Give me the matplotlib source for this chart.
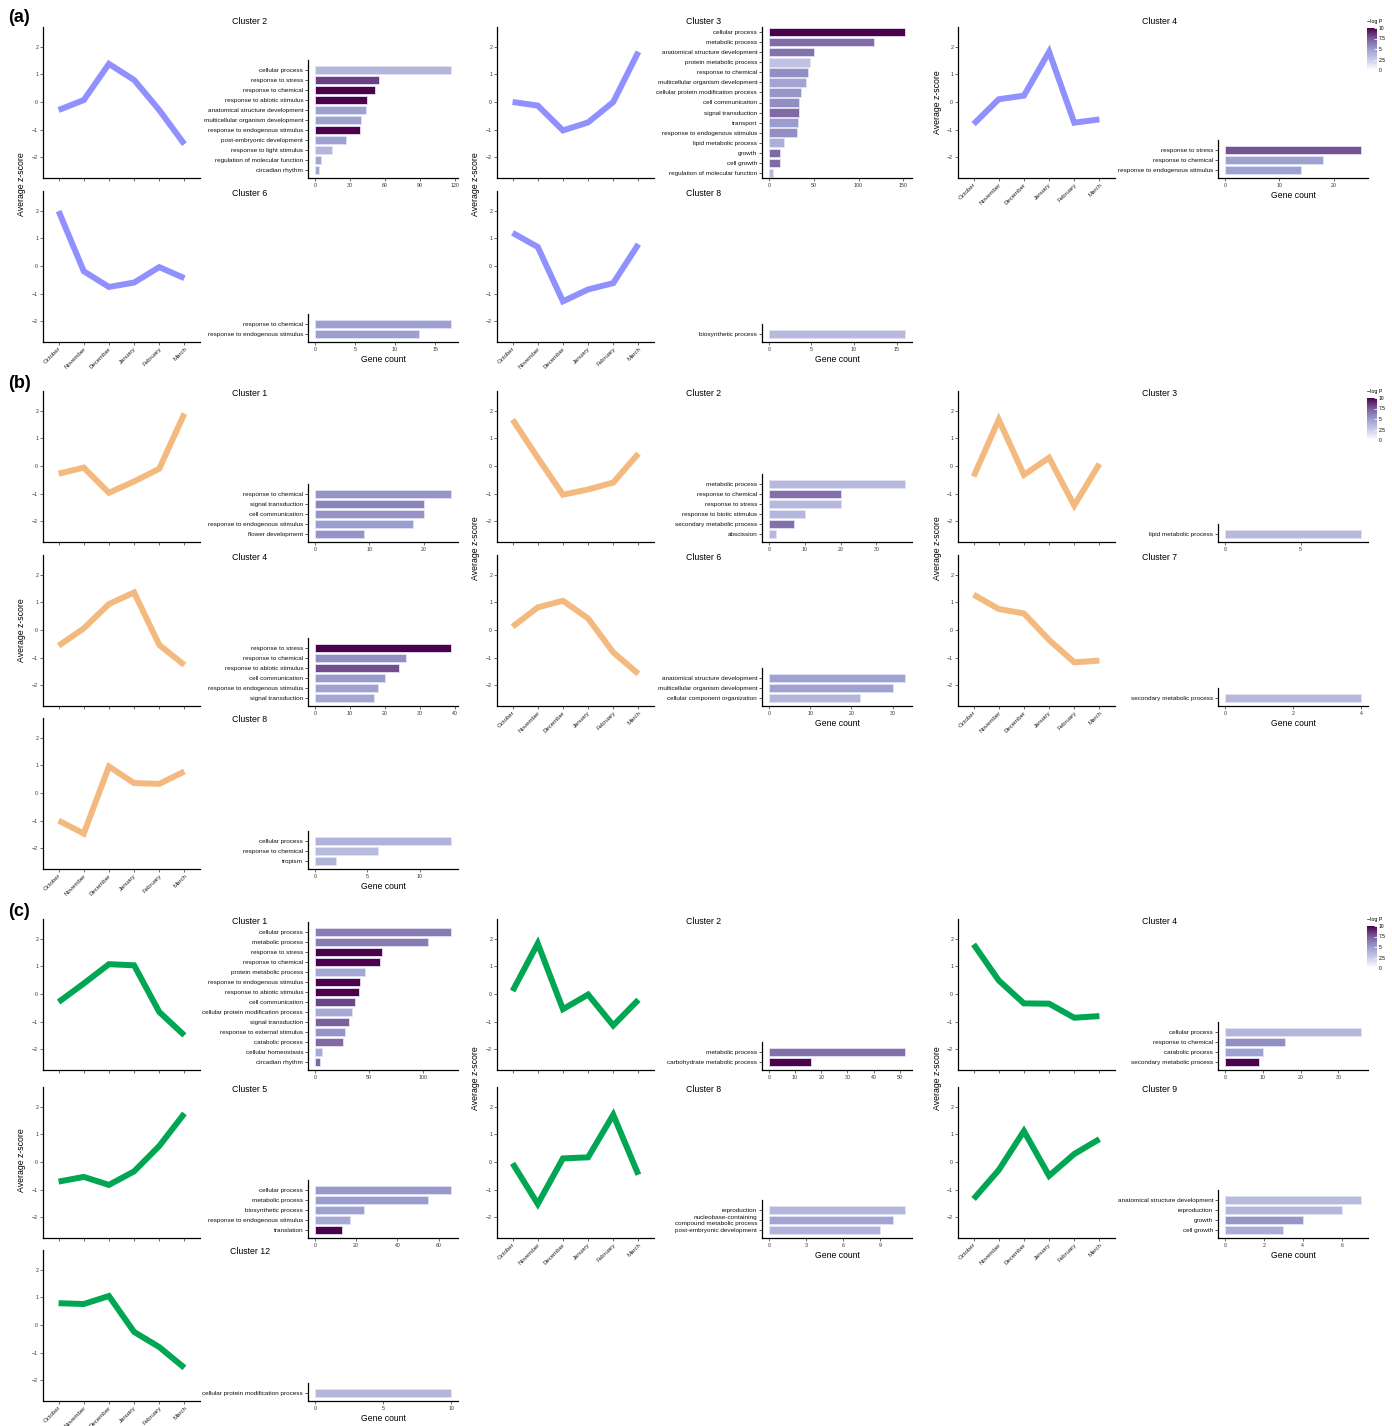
import numpy as np
import matplotlib.pyplot as plt
from matplotlib.colors import LinearSegmentedColormap, Normalize
from matplotlib.cm import ScalarMappable

plt.rcParams['font.family'] = ['Liberation Sans', 'DejaVu Sans']

MONTHS = ['October', 'November', 'December', 'January', 'February', 'March']

# ── Data: average z-score per month, GO terms, gene counts, -log P ────────────
# panel (a)
a2_z = [-0.29, 0.07, 1.38, 0.80, -0.29, -1.53]
a2_terms = ['cellular process', 'response to stress', 'response to chemical',
            'response to abiotic stimulus', 'anatomical structure development',
            'multicellular organism development', 'response to endogenous stimulus',
            'post-embryonic development', 'response to light stimulus',
            'regulation of molecular function', 'circadian rhythm']
a2_count = [117, 55, 52, 45, 44, 40, 39, 27, 15, 5, 4]
a2_logp = [3.6, 8.3, 10, 10, 4.8, 4.8, 10, 4.8, 3.6, 4.5, 4.5]
a2_ticks = [0, 30, 60, 90, 120]

a3_z = [0.0, -0.13, -1.03, -0.74, 0.0, 1.82]
a3_terms = ['cellular process', 'metabolic process', 'anatomical structure development',
            'protein metabolic process', 'response to chemical',
            'multicellular organism development', 'cellular protein modification process',
            'cell communication', 'signal transduction', 'transport',
            'response to endogenous stimulus', 'lipid metabolic process', 'growth',
            'cell growth', 'regulation of molecular function']
a3_count = [152, 117, 50, 46, 44, 41, 36, 34, 34, 33, 31, 17, 13, 12, 4.5]
a3_logp = [10, 6.9, 6.7, 3.0, 5.6, 4.6, 5.3, 5.6, 7.0, 5.0, 5.6, 4.0, 7.0, 7.0, 3.6]
a3_ticks = [0, 50, 100, 150]

a4_z = [-0.80, 0.10, 0.23, 1.82, -0.75, -0.63]
a4_terms = ['response to stress', 'response to chemical', 'response to endogenous stimulus']
a4_count = [25, 18, 14]
a4_logp = [7.8, 4.8, 4.8]
a4_ticks = [0, 10, 20]

a6_z = [1.99, -0.19, -0.76, -0.60, -0.04, -0.44]
a6_terms = ['response to chemical', 'response to endogenous stimulus']
a6_count = [17, 13]
a6_logp = [4.9, 4.9]
a6_ticks = [0, 5, 10, 15]

a8_z = [1.20, 0.69, -1.28, -0.85, -0.62, 0.79]
a8_terms = ['biosynthetic process']
a8_count = [16]
a8_logp = [3.5]
a8_ticks = [0, 5, 10, 15]

# panel (b)
b1_z = [-0.28, -0.06, -0.97, -0.56, -0.10, 1.90]
b1_terms = ['response to chemical', 'signal transduction', 'cell communication',
            'response to endogenous stimulus', 'flower development']
b1_count = [25, 20, 20, 18, 9]
b1_logp = [5.4, 6.0, 5.4, 5.0, 5.4]
b1_ticks = [0, 10, 20]

b2_z = [1.68, 0.30, -1.04, -0.85, -0.60, 0.45]
b2_terms = ['metabolic process', 'response to chemical', 'response to stress',
            'response to biotic stimulus', 'secondary metabolic process', 'abscission']
b2_count = [38, 20, 20, 10, 7, 2]
b2_logp = [3.5, 6.8, 3.5, 3.6, 6.8, 3.5]
b2_ticks = [0, 10, 20, 30]

b3_z = [-0.38, 1.68, -0.32, 0.30, -1.43, 0.08]
b3_terms = ['lipid metabolic process']
b3_count = [9]
b3_logp = [3.5]
b3_ticks = [0, 5]

b4_z = [-0.57, 0.06, 0.94, 1.36, -0.54, -1.27]
b4_terms = ['response to stress', 'response to chemical', 'response to abiotic stimulus',
            'cell communication', 'response to endogenous stimulus', 'signal transduction']
b4_count = [39, 26, 24, 20, 18, 17]
b4_logp = [10, 5.6, 7.9, 5.1, 4.8, 4.5]
b4_ticks = [0, 10, 20, 30, 40]

b6_z = [0.12, 0.82, 1.06, 0.42, -0.81, -1.59]
b6_terms = ['anatomical structure development', 'multicellular organism development',
            'cellular component organization']
b6_count = [33, 30, 22]
b6_logp = [4.8, 4.8, 3.7]
b6_ticks = [0, 10, 20, 30]

b7_z = [1.28, 0.76, 0.60, -0.36, -1.17, -1.11]
b7_terms = ['secondary metabolic process']
b7_count = [4]
b7_logp = [3.5]
b7_ticks = [0, 2, 4]

b8_z = [-1.00, -1.47, 0.96, 0.36, 0.33, 0.78]
b8_terms = ['cellular process', 'response to chemical', 'tropism']
b8_count = [13, 6, 2]
b8_logp = [3.8, 3.4, 3.8]
b8_ticks = [0, 5, 10]

# panel (c)
c1_z = [-0.29, 0.38, 1.08, 1.04, -0.65, -1.50]
c1_terms = ['cellular process', 'metabolic process', 'response to stress',
            'response to chemical', 'protein metabolic process',
            'response to endogenous stimulus', 'response to abiotic stimulus',
            'cell communication', 'cellular protein modification process',
            'signal transduction', 'response to external stimulus', 'catabolic process',
            'cellular homeostasis', 'circadian rhythm']
c1_count = [126, 105, 62, 60, 46, 42, 41, 37, 34, 32, 28, 26, 7, 5]
c1_logp = [6.3, 6.3, 10, 10, 4.5, 10, 10, 8.2, 4.3, 7.4, 5.4, 7.0, 4.3, 7.0]
c1_ticks = [0, 50, 100]

c2_z = [0.11, 1.83, -0.55, -0.02, -1.14, -0.21]
c2_terms = ['metabolic process', 'carbohydrate metabolic process']
c2_count = [52, 16]
c2_logp = [6.8, 10]
c2_ticks = [0, 10, 20, 30, 40, 50]

c4_z = [1.80, 0.49, -0.34, -0.35, -0.86, -0.80]
c4_terms = ['cellular process', 'response to chemical', 'catabolic process',
            'secondary metabolic process']
c4_count = [36, 16, 10, 9]
c4_logp = [3.6, 5.6, 4.8, 10]
c4_ticks = [0, 10, 20, 30]

c5_z = [-0.71, -0.54, -0.83, -0.34, 0.58, 1.76]
c5_terms = ['cellular process', 'metabolic process', 'biosynthetic process',
            'response to endogenous stimulus', 'translation']
c5_count = [66, 55, 24, 17, 13]
c5_logp = [5.2, 5.0, 4.8, 4.4, 10]
c5_ticks = [0, 20, 40, 60]

c8_z = [-0.05, -1.52, 0.13, 0.17, 1.71, -0.46]
c8_terms = ['reproduction', 'nucleobase-containing\ncompound metabolic process',
            'post-embryonic development']
c8_count = [11, 10, 9]
c8_logp = [3.6, 4.6, 3.8]
c8_ticks = [0, 3, 6, 9]

c9_z = [-1.34, -0.29, 1.12, -0.50, 0.29, 0.83]
c9_terms = ['anatomical structure development', 'reproduction', 'growth', 'cell growth']
c9_count = [7, 6, 4, 3]
c9_logp = [3.4, 3.6, 5.3, 4.2]
c9_ticks = [0, 2, 4, 6]

c12_z = [0.79, 0.76, 1.05, -0.25, -0.80, -1.55]
c12_terms = ['cellular protein modification process']
c12_count = [10]
c12_logp = [3.6]
c12_ticks = [0, 5, 10]

# ── Layout (pixels) ───────────────────────────────────────────────────────────
W, H = 1392, 1426
fig = plt.figure(figsize=(W / 100, H / 100), dpi=100)

LINE_X = [43, 497, 958]
BAR_X = [308, 762, 1218]
PX_UNIT = 27.6

cmap = LinearSegmentedColormap.from_list(
    'logp', ['#FFFFFF', '#C8CBE6', '#9A9ECF', '#7A5E9C', '#4D004B'])
norm = Normalize(0, 10)


def px_axes(x, y, w, h):
    return fig.add_axes([x / W, 1 - (y + h) / H, w / W, h / H])


def style(ax):
    for s in ['top', 'right']:
        ax.spines[s].set_visible(False)
    for s in ['left', 'bottom']:
        ax.spines[s].set_linewidth(0.9)
        ax.spines[s].set_color('black')
    ax.tick_params(length=2, width=0.5, pad=1.5, colors='#333333', labelsize=3.8)
    ax.set_facecolor('none')


def draw_line(col, zero, z, color, months):
    ax = px_axes(LINE_X[col], zero - 75, 157, 151)
    ax.plot(range(6), z, color=color, lw=4.3,
            solid_joinstyle='miter', solid_capstyle='butt')
    ax.set_xlim(-0.62, 5.62)
    ax.set_ylim(-76 / PX_UNIT, 75 / PX_UNIT)
    ax.set_yticks([-2, -1, 0, 1, 2])
    ax.set_yticklabels(['−2', '−1', '0', '1', '2'])
    ax.set_xticks(range(6))
    style(ax)
    if months:
        ax.set_xticklabels(MONTHS, rotation=45, ha='right', va='top',
                           rotation_mode='anchor', fontsize=4.4, color='#222222')
        ax.tick_params(axis='x', pad=1)
    else:
        ax.set_xticklabels([])


def draw_bars(col, zero, name, terms, count, logp, ticks, xlabel, title_dy):
    n = len(terms)
    bottom = zero + 76
    h = n * 10 + 8
    if h > 151:
        h = 151
        ylim = (-0.5, n - 0.5)
    else:
        ylim = (-0.8, n)
    ax = px_axes(BAR_X[col], bottom - h, 150, h)
    y = np.arange(n)[::-1]
    ax.barh(y, count, height=0.85, color=cmap(norm(logp)),
            edgecolor='#E2E2F2', linewidth=0.6)
    m = max(count)
    ax.set_xlim(-0.05 * m, 1.05 * m)
    ax.set_ylim(*ylim)
    ax.set_yticks(y)
    ax.set_yticklabels(terms, multialignment='right')
    ax.set_xticks(ticks)
    style(ax)
    ax.tick_params(axis='y', labelsize=4.6, colors='#111111')
    if xlabel:
        ax.set_xlabel('Gene count', fontsize=6.2, labelpad=2)
    zt = zero - 75
    fig.text((BAR_X[col] - 58) / W, 1 - (zt + title_dy) / H, name,
             ha='center', va='center', fontsize=6.3)


def draw_legend(top):
    cax = px_axes(1367, top + 8, 10, 42)
    cb = fig.colorbar(ScalarMappable(norm=norm, cmap=cmap), cax=cax,
                      ticks=[0, 2.5, 5, 7.5, 10])
    cb.ax.set_yticklabels(['0', '2.5', '5', '7.5', '10'])
    cb.outline.set_visible(False)
    cb.ax.tick_params(length=2, width=0.6, color='white', labelsize=3.6,
                      pad=1, direction='in')
    fig.text(1367 / W, 1 - (top + 1) / H, '−log P', fontsize=3.8,
             ha='left', va='center')


def ylabel(col, top, bottom):
    fig.text((LINE_X[col] - 21) / W, 1 - ((top + bottom) / 2) / H,
             'Average z-score', rotation=90, ha='center', va='center',
             fontsize=6.3)


# panel rows: (zero pixel of line plot) and clusters per column
PANELS = [
    ('(a)', '#9090FF', 18, [102, 266], [-5, 2], 20, [
        [('Cluster 2', a2_z, a2_terms, a2_count, a2_logp, a2_ticks),
         ('Cluster 6', a6_z, a6_terms, a6_count, a6_logp, a6_ticks)],
        [('Cluster 3', a3_z, a3_terms, a3_count, a3_logp, a3_ticks),
         ('Cluster 8', a8_z, a8_terms, a8_count, a8_logp, a8_ticks)],
        [('Cluster 4', a4_z, a4_terms, a4_count, a4_logp, a4_ticks)],
    ]),
    ('(b)', '#F4B97F', 383, [466, 630, 793], [2, 2, 2], 390, [
        [('Cluster 1', b1_z, b1_terms, b1_count, b1_logp, b1_ticks),
         ('Cluster 4', b4_z, b4_terms, b4_count, b4_logp, b4_ticks),
         ('Cluster 8', b8_z, b8_terms, b8_count, b8_logp, b8_ticks)],
        [('Cluster 2', b2_z, b2_terms, b2_count, b2_logp, b2_ticks),
         ('Cluster 6', b6_z, b6_terms, b6_count, b6_logp, b6_ticks)],
        [('Cluster 3', b3_z, b3_terms, b3_count, b3_logp, b3_ticks),
         ('Cluster 7', b7_z, b7_terms, b7_count, b7_logp, b7_ticks)],
    ]),
    ('(c)', '#00A651', 912, [994, 1162, 1325], [2, 2, 2], 918, [
        [('Cluster 1', c1_z, c1_terms, c1_count, c1_logp, c1_ticks),
         ('Cluster 5', c5_z, c5_terms, c5_count, c5_logp, c5_ticks),
         ('Cluster 12', c12_z, c12_terms, c12_count, c12_logp, c12_ticks)],
        [('Cluster 2', c2_z, c2_terms, c2_count, c2_logp, c2_ticks),
         ('Cluster 8', c8_z, c8_terms, c8_count, c8_logp, c8_ticks)],
        [('Cluster 4', c4_z, c4_terms, c4_count, c4_logp, c4_ticks),
         ('Cluster 9', c9_z, c9_terms, c9_count, c9_logp, c9_ticks)],
    ]),
]

for tag, color, tag_y, zeros, title_dy, leg_top, cols in PANELS:
    fig.text(8 / W, 1 - tag_y / H, tag, fontsize=13, fontweight='bold',
             ha='left', va='center')
    for c, clusters in enumerate(cols):
        last = len(clusters) - 1
        for r, (name, z, terms, count, logp, ticks) in enumerate(clusters):
            draw_line(c, zeros[r], z, color, r == last)
            draw_bars(c, zeros[r], name, terms, count, logp, ticks, r == last,
                      title_dy[r])
        ylabel(c, zeros[0] - 75, zeros[last] + 76)
    draw_legend(leg_top)

fig.savefig('out.png', dpi=100, facecolor='white')
